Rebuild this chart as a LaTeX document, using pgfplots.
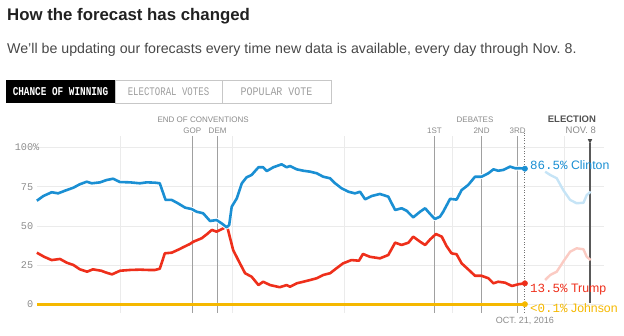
\documentclass[border=0pt]{standalone}
\usepackage{fontspec}
\setmainfont{Liberation Sans}
\setmonofont{Liberation Mono}
\usepackage{graphicx}
\usepackage{pgfplots}
\usepackage{pgfplotstable}
\pgfplotsset{compat=1.18}
\definecolor{cblue}{HTML}{1A8FD3}
\definecolor{cred}{HTML}{EE2F1B}
\definecolor{cyel}{HTML}{F5B800}
\definecolor{lblue}{HTML}{C6E4F6}
\definecolor{lred}{HTML}{FBCBC3}
\definecolor{gridc}{HTML}{EBEBEB}
\definecolor{evc}{HTML}{A0A0A0}
\definecolor{labc}{HTML}{8A8A8A}

\pgfplotstableread{
d v
7 66.1
8.8 69.1
11.1 71.5
12.9 70.8
14.8 72.5
17.1 74.4
18.9 76.6
20.8 78.2
22.2 77.2
24.5 77.8
26.3 79.3
28.1 80.1
30 78.0
32.8 77.8
35.5 77.2
37.4 77.8
39.7 77.6
41 77.2
42.6 66.6
44.3 66.6
46 64.5
48 61.7
49.8 60.8
51.2 59.1
53 58.1
54.9 53.2
56.7 53.8
58.1 51.7
59.5 49.2
60.2 50.6
60.9 62.3
62.3 67.6
63.7 77.2
65 81.0
66.4 82.5
68.3 87.4
69.6 87.4
70.6 85.0
72.4 87.4
74.7 89.3
76.1 87.4
77 88.2
78.9 86.1
80.7 85.2
82.6 84.6
84.4 83.6
86.2 81.4
88.1 80.4
89.5 77.2
91.3 74.0
93.2 71.8
95 70.8
96.4 71.8
97.8 67.0
99.6 69.1
101.9 70.4
104.2 68.7
106.1 60.2
107.9 61.3
109.3 59.7
111.1 55.5
113 59.1
114.4 61.3
115.8 57.6
117.1 54.5
118.5 55.9
119.4 59.1
121.3 67.3
123.1 66.8
124.5 72.9
126.3 76.1
128.2 81.4
130 81.4
131.9 83.6
133.3 86.1
134.6 85.2
136 85.7
137.9 87.8
139.3 86.8
140.6 86.8
142 86.5
}\clinton

\pgfplotstableread{
d v
7 33.0
9 30.4
11.1 28.3
13.4 29.0
15.3 26.6
17.1 25.2
18.9 22.4
20.9 20.9
22.5 22.4
24.8 21.5
26.2 20.3
27.8 19.2
30 21.5
32.8 22.0
35.5 22.2
37.8 22.0
39.7 22.0
41 22.8
42.4 32.6
44.3 33.0
46.4 35.2
47.4 36.4
49.3 38.5
50.3 40.0
52.6 42.2
54 44.7
55.4 47.5
56.7 46.4
58.6 48.5
59.6 50.0
61.3 34.7
62.7 28.3
64.6 19.9
66.4 17.7
68.3 12.4
69.6 14.5
71.5 12.4
74.2 11.0
76.1 12.4
77 11.3
78.9 13.5
80.7 14.5
82.6 15.6
84.4 16.7
86.2 18.8
88.1 19.9
89.9 23.1
91.7 26.2
94 28.3
96.1 27.9
97.2 32.2
99.1 30.4
101.9 29.4
104.2 31.5
106.1 39.4
107.9 37.9
109.8 39.4
111.1 43.2
113 40.0
114.4 37.9
115.8 41.5
117.4 44.9
119 43.2
120.3 37.3
121.7 32.6
123.1 32.0
124.5 26.2
126.3 22.4
128.2 18.3
130 18.3
131.9 16.7
133.3 13.5
134.6 14.5
136.5 13.9
138.4 11.8
140.2 12.9
142 13.5
}\trump

\begin{document}
\begin{tikzpicture}[x=1pt,y=1pt]
\useasboundingbox (0,0) rectangle (624,335);
% header
\node[anchor=base west, inner sep=0pt, font=\fontsize{16.8}{18}\selectfont\bfseries, text=black!87] at (7,314.3) {How the forecast has changed};
\node[anchor=base west, inner sep=0pt, font=\fontsize{14.2}{16}\selectfont, text=black!72] at (7,281.7) {We'll be updating our forecasts every time new data is available, every day through Nov.~8.};
% tabs
\fill[black] (6,232) rectangle (115,255);
\draw[black!22, line width=0.8pt] (115,232) rectangle (331,255);
\draw[black!22, line width=0.8pt] (222,232) -- (222,255);
\node[inner sep=0pt, text=white] at (60.5,243.5) {\scalebox{0.78}[1]{\fontsize{12}{13}\selectfont\ttfamily\bfseries CHANCE OF WINNING}};
\node[inner sep=0pt, text=black!38] at (168.5,243.5) {\scalebox{0.78}[1]{\fontsize{11.6}{13}\selectfont\ttfamily ELECTORAL VOTES}};
\node[inner sep=0pt, text=black!38] at (276.5,243.5) {\scalebox{0.86}[1]{\fontsize{11.6}{13}\selectfont\ttfamily POPULAR VOTE}};

\begin{axis}[
  at={(36.85pt,30.5pt)}, anchor=south west, scale only axis,
  width=567.6pt, height=157pt,
  xmin=7, xmax=164, ymin=0, ymax=100,
  clip=false,
  axis line style={draw=none},
  major tick style={draw=none},
  xtick=\empty,
  ytick={0,25,50,75,100},
  yticklabels={0,25,50,75,100\rlap{\%}},
  yticklabel style={font=\fontsize{10.2}{12}\selectfont\ttfamily, text=black!45, inner sep=0pt, xshift=-3.5pt},
  ymajorgrids,
  major grid style={gridc, line width=0.9pt},
]
% month gridlines
\draw[gridc, line width=0.9pt] (axis cs:30,-5.4) -- (axis cs:30,107.3);
\draw[gridc, line width=0.9pt] (axis cs:61,-5.4) -- (axis cs:61,107.3);
\draw[gridc, line width=0.9pt] (axis cs:92,-5.4) -- (axis cs:92,107.3);
\draw[gridc, line width=0.9pt] (axis cs:122,-5.4) -- (axis cs:122,107.3);
\draw[gridc, line width=0.9pt] (axis cs:153,-5.4) -- (axis cs:153,107.3);
% event lines
\draw[evc, line width=1pt] (axis cs:50,-5.4) -- (axis cs:50,107.3);
\draw[evc, line width=1pt] (axis cs:57,-5.4) -- (axis cs:57,107.3);
\draw[evc, line width=1pt] (axis cs:117,-5.4) -- (axis cs:117,107.3);
\draw[evc, line width=1pt] (axis cs:130,-5.4) -- (axis cs:130,107.3);
\draw[evc, line width=1pt] (axis cs:140,-5.4) -- (axis cs:140,107.3);
\draw[black!55, line width=1pt, dash pattern=on 1pt off 1.6pt] (axis cs:142,-5.4) -- (axis cs:142,110);
\draw[black!65, line width=1.1pt] (axis cs:160,0.8) -- (axis cs:160,102.7);
\fill[black!70] (axis cs:159.4,105.3) -- (axis cs:160.6,105.3) -- (axis cs:160,102.4) -- cycle;
% event labels
\node[anchor=base, inner sep=0pt, font=\fontsize{8}{9}\selectfont, text=labc] at (axis cs:53,116.1) {END OF CONVENTIONS};
\node[anchor=base, inner sep=0pt, font=\fontsize{8}{9}\selectfont, text=labc] at (axis cs:50,109) {GOP};
\node[anchor=base, inner sep=0pt, font=\fontsize{8}{9}\selectfont, text=labc] at (axis cs:57,109) {DEM};
\node[anchor=base, inner sep=0pt, font=\fontsize{8}{9}\selectfont, text=labc] at (axis cs:128.2,116.1) {DEBATES};
\node[anchor=base, inner sep=0pt, font=\fontsize{8}{9}\selectfont, text=labc] at (axis cs:117,109) {1ST};
\node[anchor=base, inner sep=0pt, font=\fontsize{8}{9}\selectfont, text=labc] at (axis cs:130,109) {2ND};
\node[anchor=base, inner sep=0pt, font=\fontsize{8}{9}\selectfont, text=labc] at (axis cs:140,109) {3RD};
\node[anchor=base east, inner sep=0pt, font=\fontsize{9.5}{11}\selectfont\bfseries, text=black!68] at (axis cs:161.7,115.8) {ELECTION};
\node[anchor=base east, inner sep=0pt, font=\fontsize{9.5}{11}\selectfont, text=labc] at (axis cs:161.7,109) {NOV. 8};
\node[anchor=base, inner sep=0pt, font=\fontsize{9}{10}\selectfont, text=labc] at (axis cs:142,-12) {OCT. 21, 2016};

% future (faded) lines
\addplot[lred, line width=2.4pt, line join=round] coordinates {
(147.6,15.6) (149,18.8) (150.8,20.9) (152.6,27.3) (154.5,33.6) (156.3,35.8) (158.2,35.2) (159.1,30.4) (160.2,28.3)};
\addplot[lblue, line width=2.4pt, line join=round] coordinates {
(147.6,84.6) (149,82.5) (150.8,80.4) (152.6,72.9) (154.5,66.6) (156.3,64.5) (158.2,64.8) (159.1,69.7) (160.2,71.9)};
% Johnson
\addplot[cyel, line width=2.8pt] coordinates {(7,0.2) (40,0.2) (80,0.2) (120,0.2) (142,0.2)};
% Trump
\addplot[cred, line width=2.6pt, line join=round] table {\trump};
% Clinton with halo
\addplot[white, line width=4.6pt, line join=round] table {\clinton};
\addplot[cblue, line width=2.6pt, line join=round] table {\clinton};
% end dots
\addplot[only marks, mark=*, mark size=2.7pt, cblue] coordinates {(142,86.5)};
\addplot[only marks, mark=*, mark size=2.7pt, cred] coordinates {(142,13.5)};
\addplot[only marks, mark=*, mark size=2.7pt, cyel] coordinates {(142,0.2)};
% end labels
\node[anchor=base west, inner sep=0pt, text=cblue] at (axis cs:143.4,85.7) {{\fontsize{12.5}{14}\selectfont\ttfamily 86.5\%}{\fontsize{12.3}{14}\selectfont\ Clinton}};
\node[anchor=base west, inner sep=0pt, text=cred] at (axis cs:143.4,7.5) {{\fontsize{12.5}{14}\selectfont\ttfamily 13.5\%}{\fontsize{12.3}{14}\selectfont\ Trump}};
\node[anchor=base west, inner sep=0pt, text=cyel] at (axis cs:143.4,-5.2) {{\fontsize{12.5}{14}\selectfont\ttfamily <0.1\%}{\fontsize{12.3}{14}\selectfont\ Johnson}};
\end{axis}
\end{tikzpicture}
\end{document}
